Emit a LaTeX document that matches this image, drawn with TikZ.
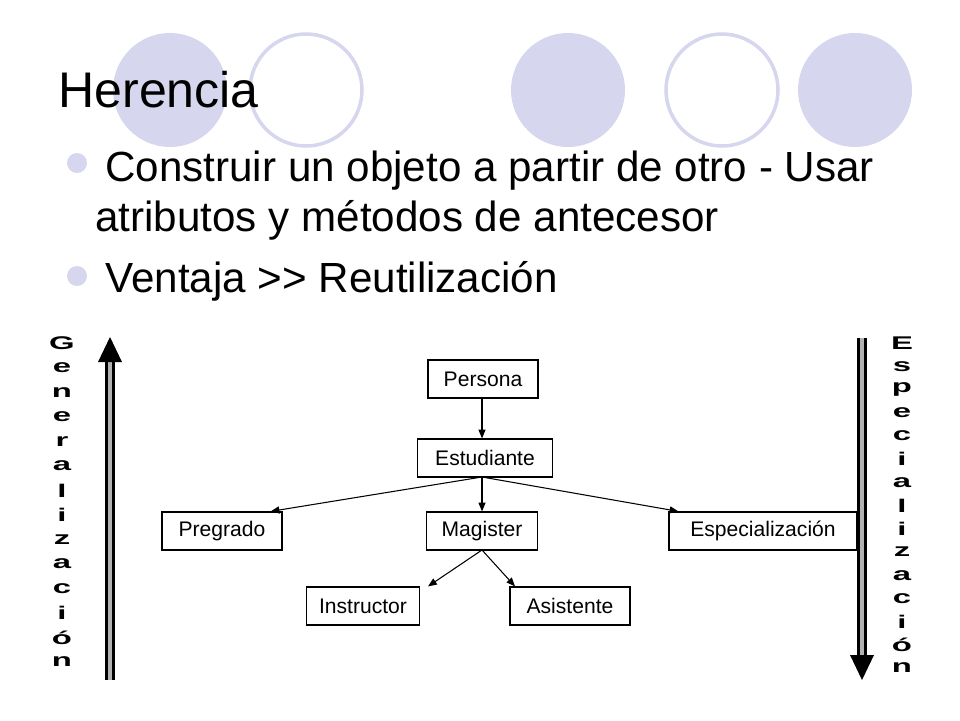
\documentclass[tikz,border=0pt]{standalone}
\usepackage{fontspec}
\setmainfont{Liberation Sans}
\usetikzlibrary{arrows.meta}
\definecolor{lav}{RGB}{214,214,238}
\tikzset{
  box/.style={draw,line width=0.7pt,minimum height=0.76cm,inner sep=0pt,font=\fontsize{12}{14}\selectfont},
  link/.style={-{Triangle[length=5pt,width=4pt]},line width=0.6pt},
  vletter/.style={font=\fontsize{11}{11}\bfseries\selectfont,xscale=1.7,yscale=0.95,inner sep=0pt}
}
\begin{document}
\begin{tikzpicture}[x=0.02cm,y=-0.02cm]
  \useasboundingbox (0,0) rectangle (960,720);
  % circles
  \fill[lav] (170,90) circle (57);
  \draw[lav,line width=2pt] (306,90) circle (56);
  \fill[lav] (568,90) circle (57);
  \draw[lav,line width=2pt] (722,90) circle (56);
  \fill[lav] (855,90) circle (57);
  % text
  \node[anchor=base west,inner sep=0pt,font=\fontsize{28.5}{32}\selectfont] (title) at (58,107) {Herencia};
  \fill[lav] (77,163) circle (10);
  \fill[lav] (77,276) circle (10);
  \node[anchor=base west,inner sep=0pt,font=\fontsize{24}{28}\selectfont] (b1) at (105,181) {Construir un objeto a partir de otro - Usar};
  \node[anchor=base west,inner sep=0pt,font=\fontsize{24}{28}\selectfont] (b1b) at (95,231) {atributos y métodos de antecesor};
  \node[anchor=base west,inner sep=0pt,font=\fontsize{24}{28}\selectfont] (b2) at (105,292) {Ventaja {>}{>} Reutilización};
  % boxes
  \node[box,minimum width=2.2cm] (per) at (483,379) {Persona};
  \node[box,minimum width=2.7cm] (est) at (485,458) {Estudiante};
  \node[box,minimum width=2.4cm] (pre) at (222,531) {Pregrado};
  \node[box,minimum width=2.22cm] (mag) at (482,531) {Magister};
  \node[box,minimum width=3.76cm] (esp) at (763,531) {Especialización};
  \node[box,minimum width=2.26cm] (ins) at (363,606) {Instructor};
  \node[box,minimum width=2.4cm] (asi) at (570,606) {Asistente};
  \coordinate (ebot) at (482,477);
  \coordinate (mbot) at (482,550);
  \draw[link] (per.south -| ebot) -- (est.north -| ebot);
  \draw[link] (ebot) -- (mag.north);
  \draw[link] (ebot) -- ([xshift=-0.24cm]pre.north east);
  \draw[link] (ebot) -- ([xshift=0.2cm]esp.north west);
  \draw[link] (mbot) -- ([xshift=1.3cm]ins.north);
  \draw[link] (mbot) -- ([xshift=-1.1cm]asi.north);
  % side arrows
  \coordinate (lb) at (110,680); \coordinate (lt) at (110,362);
  \coordinate (rt) at (862,338); \coordinate (rb) at (862,655);
  \draw[line width=6pt] (lb) -- (lt);
  \draw[gray!60,line width=2pt] (lb) -- (lt);
  \fill (98,362) -- (122,362) -- (110,337) -- cycle;
  \draw[line width=6pt] (rt) -- (rb);
  \draw[gray!60,line width=2pt] (rt) -- (rb);
  \fill (850,655) -- (874,655) -- (862,680) -- cycle;
  \foreach \l [count=\i] in {G,e,n,e,r,a,l,i,z,a,c,i,ó,n}
    \node[vletter] (g\i) at (62,{319+24.5*\i}) {\l};
  \foreach \l [count=\i] in {E,s,p,e,c,i,a,l,i,z,a,c,i,ó,n}
    \node[vletter] (s\i) at (902,{320+23.2*\i}) {\l};
\end{tikzpicture}
\end{document}
